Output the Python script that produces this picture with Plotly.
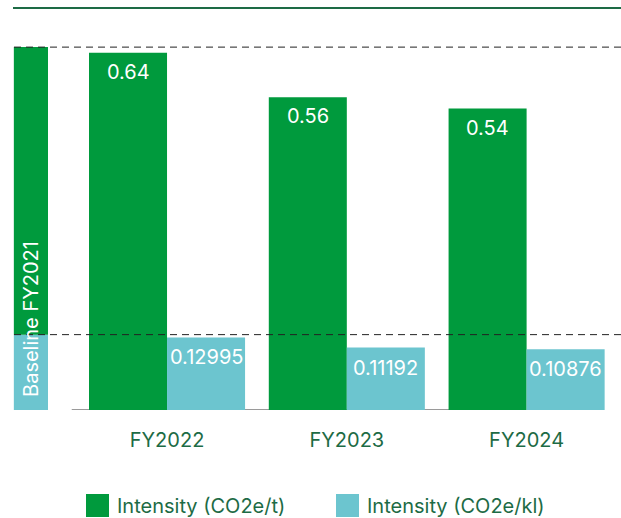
import plotly.graph_objects as go

# Emission intensity by financial year
years = ["FY2022", "FY2023", "FY2024"]
intensity_t = [0.64, 0.56, 0.54]          # CO2e per tonne
intensity_kl = [0.12995, 0.11192, 0.10876]  # CO2e per kilolitre
baseline_label = "Baseline FY2021"
baseline_t = 0.65
baseline_kl = 0.135

GREEN = "#009a3d"
BLUE = "#6cc5cf"
DARK_GREEN = "#1d6b45"
FONT = "Inter, Roboto, Arial, sans-serif"
FS = 20

x_pos = list(range(len(years)))
bar_w = 0.434
base_x = -0.757
base_w = 0.19

fig = go.Figure()

# Baseline column: CO2e/kl portion at the bottom, CO2e/t portion stacked to its level
fig.add_trace(go.Bar(x=[base_x], y=[baseline_kl], width=base_w, marker_color=BLUE,
                     marker_line_width=0, showlegend=False, hoverinfo="skip"))
fig.add_trace(go.Bar(x=[base_x], y=[baseline_t - baseline_kl], base=[baseline_kl],
                     width=base_w, marker_color=GREEN, marker_line_width=0,
                     showlegend=False, hoverinfo="skip"))

fig.add_trace(go.Bar(x=x_pos, y=intensity_t, width=bar_w, offset=-bar_w,
                     marker_color=GREEN, marker_line_width=0,
                     name="Intensity (CO2e/t)", showlegend=False))
fig.add_trace(go.Bar(x=x_pos, y=intensity_kl, width=bar_w, offset=0,
                     marker_color=BLUE, marker_line_width=0,
                     name="Intensity (CO2e/kl)", showlegend=False))

annotations = []
for i, v in enumerate(intensity_t):
    annotations.append(dict(x=x_pos[i] - bar_w / 2, y=v, yshift=-19, text=f"{v:.2f}",
                            showarrow=False, font=dict(family=FONT, size=FS, color="white")))
for i, v in enumerate(intensity_kl):
    annotations.append(dict(x=x_pos[i] + bar_w / 2, y=v, yshift=-20, text=f"{v:.5f}",
                            showarrow=False, font=dict(family=FONT, size=FS, color="white")))

annotations.append(dict(x=base_x, y=0, yanchor="bottom", yshift=11, text=baseline_label,
                        textangle=-90, showarrow=False,
                        font=dict(family=FONT, size=FS, color="white")))

# Custom legend under the plot
legend_items = [("Intensity (CO2e/t)", GREEN, 86), ("Intensity (CO2e/kl)", BLUE, 336)]
W, PH = 621, 410
shapes = []
for label, col, px in legend_items:
    shapes.append(dict(type="rect", xref="paper", yref="paper",
                       x0=px / W, x1=(px + 23) / W,
                       y0=(PH - 517) / PH, y1=(PH - 494) / PH,
                       fillcolor=col, line_width=0))
    annotations.append(dict(xref="paper", yref="paper", x=(px + 29) / W, y=(PH - 506) / PH,
                            xanchor="left", yanchor="middle", text=label, showarrow=False,
                            font=dict(family=FONT, size=FS, color=DARK_GREEN)))

# Top rule
shapes.append(dict(type="line", xref="paper", yref="paper", x0=13 / W, x1=1,
                   y0=(PH - 8) / PH, y1=(PH - 8) / PH, line=dict(color=DARK_GREEN, width=2)))
# Baseline reference levels
x_left = -0.929 + 14 / 179.75
for lvl in (baseline_t, baseline_kl):
    shapes.append(dict(type="line", xref="x", yref="y", x0=x_left, x1=2.6, y0=lvl, y1=lvl,
                       line=dict(color="#222222", width=1, dash="7px,5px"), layer="above"))
# Axis line
shapes.append(dict(type="line", xref="x", yref="y", x0=-0.53, x1=1.97, y0=0, y1=0,
                   line=dict(color="#9a9a9a", width=2), layer="below"))

fig.update_layout(
    width=621, height=518,
    margin=dict(l=0, r=0, t=0, b=108),
    paper_bgcolor="white", plot_bgcolor="white",
    barmode="overlay",
    showlegend=False,
    xaxis=dict(range=[-0.929, 2.525], tickvals=x_pos, ticktext=years,
               showgrid=False, zeroline=False, showline=False, ticks="",
               tickfont=dict(family=FONT, size=FS, color=DARK_GREEN),
               ticklabelstandoff=16),
    yaxis=dict(range=[0, 0.7344], visible=False, showgrid=False, zeroline=False),
    shapes=shapes,
    annotations=annotations,
)

fig.write_html("out.html")
